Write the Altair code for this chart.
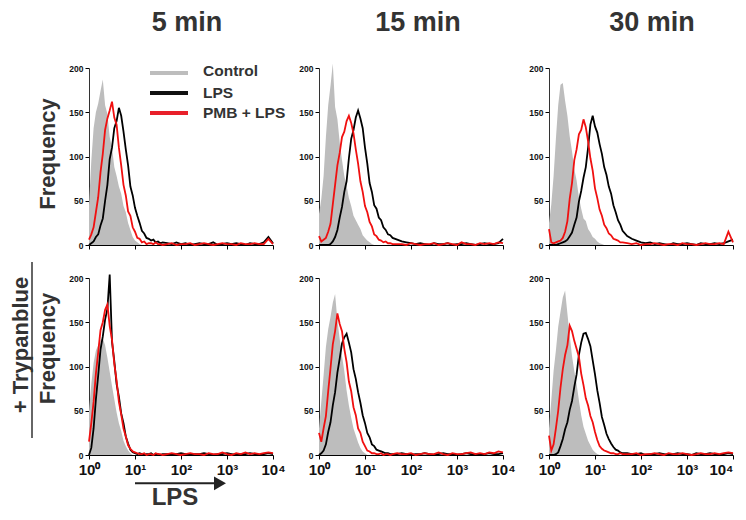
import altair as alt
import pandas as pd

FONT = "Liberation Sans"
TEXT_DARK = "#333333"
GRAY = "#bdbdbd"
RED = "#f01010"

COLUMN_TITLES = ["5 min", "15 min", "30 min"]
SERIES = ["Control", "LPS", "PMB + LPS"]
X_TICKS = [0, 1, 2, 3, 4]
X_TICK_LABELS = ["10⁰", "10¹", "10²", "10³", "10⁴"]
Y_TICKS = [0, 50, 100, 150, 200]

# log10 channel grid (main peak region and flat tail)
LOG_MAIN = [round(0.05 * i, 2) for i in range(33)]      # 0.00 .. 1.60
LOG_TAIL = [round(1.7 + 0.1 * i, 2) for i in range(24)]  # 1.7 .. 4.0

# ---- panel 1: 5 min ----
GRAY_1 = [45, 95, 132, 150, 160, 174, 187, 158, 148, 122, 110, 88, 78, 66, 58, 44, 37, 25, 17, 9,
          5, 3, 1, 0, 0, 0, 0, 0, 0, 0, 0, 0, 0]
BLACK_1 = [0, 2, 4, 9, 12, 22, 30, 50, 68, 97, 110, 132, 140, 155, 146, 128, 108, 90, 66, 56,
           42, 33, 25, 16, 13, 8, 7, 5, 6, 3, 4, 2, 3]
RED_1 = [6, 12, 20, 37, 54, 82, 103, 130, 143, 152, 162, 144, 136, 110, 90, 68, 56, 38, 33, 20,
         15, 8, 7, 3, 4, 1, 2, 2, 1, 3, 1, 1, 0]
BLACK_1_TAIL = [2, 1, 3, 1, 2, 0, 1, 2, 1, 1, 3, 0, 1, 2, 1, 2, 1, 0, 2, 1, 1, 3, 9, 2]
RED_1_TAIL = [1, 2, 0, 1, 1, 2, 0, 1, 2, 1, 0, 1, 2, 1, 1, 0, 2, 1, 1, 2, 1, 1, 7, 1]

# ---- panel 2: 15 min ----
GRAY_2 = [35, 52, 78, 122, 158, 180, 205, 156, 142, 116, 96, 78, 67, 53, 44, 33, 28, 23, 18, 11,
          8, 5, 3, 1, 0, 0, 0, 0, 0, 0, 0, 0, 0]
BLACK_2 = [0, 0, 0, 0, 0, 1, 4, 9, 17, 31, 43, 60, 72, 98, 120, 130, 144, 152, 143, 132,
           110, 92, 70, 60, 45, 41, 31, 28, 20, 17, 12, 11, 8]
RED_2 = [10, 4, 6, 8, 15, 24, 46, 68, 90, 104, 122, 128, 140, 146, 138, 126, 108, 92, 72, 60,
         44, 37, 26, 21, 12, 10, 6, 5, 3, 4, 2, 2, 1]
BLACK_2_TAIL = [6, 4, 3, 2, 1, 2, 1, 0, 2, 1, 1, 2, 0, 1, 1, 2, 1, 0, 1, 2, 1, 1, 2, 7]
RED_2_TAIL = [1, 1, 0, 2, 1, 0, 1, 1, 2, 0, 1, 2, 1, 0, 3, 1, 1, 0, 2, 1, 2, 1, 3, 2]

# ---- panel 3: 30 min ----
GRAY_3 = [25, 46, 78, 120, 158, 181, 183, 163, 146, 123, 106, 86, 73, 54, 41, 30, 27, 18, 14, 9,
          7, 4, 2, 1, 0, 0, 0, 0, 0, 0, 0, 0, 0]
BLACK_3 = [0, 0, 0, 0, 1, 2, 3, 4, 6, 10, 14, 23, 31, 49, 61, 76, 88, 110, 136, 146,
           134, 127, 114, 103, 88, 79, 66, 58, 45, 37, 28, 23, 16]
RED_3 = [18, 3, 2, 3, 4, 5, 8, 15, 27, 52, 70, 96, 108, 125, 130, 142, 133, 117, 98, 84,
         64, 53, 40, 33, 23, 19, 13, 11, 7, 6, 5, 3, 3]
BLACK_3_TAIL = [10, 7, 5, 3, 2, 3, 1, 2, 1, 0, 2, 1, 1, 2, 1, 0, 2, 1, 1, 2, 1, 2, 4, 6]
RED_3_TAIL = [2, 1, 2, 0, 1, 1, 2, 1, 0, 1, 1, 0, 2, 1, 1, 0, 1, 2, 1, 1, 2, 1, 15, 3]

# ---- panel 4: 5 min + Trypanblue ----
GRAY_4 = [50, 80, 104, 118, 124, 130, 132, 124, 110, 94, 78, 63, 48, 36, 27, 16, 10, 5, 2, 0,
          0, 0, 0, 0, 0, 0, 0, 0, 0, 0, 0, 0, 0]
BLACK_4 = [0, 8, 30, 63, 90, 119, 134, 153, 165, 204, 128, 106, 80, 66, 47, 36, 21, 13, 6, 3,
           2, 1, 2, 1, 0, 1, 1, 2, 0, 1, 1, 0, 1]
RED_4 = [15, 36, 60, 92, 116, 141, 150, 164, 170, 146, 130, 103, 84, 60, 46, 30, 21, 11, 7, 4,
         3, 2, 1, 1, 2, 0, 1, 1, 0, 2, 1, 1, 0]
BLACK_4_TAIL = [1, 0, 1, 2, 1, 0, 1, 1, 2, 1, 0, 1, 1, 2, 1, 0, 1, 1, 2, 1, 0, 1, 2, 1]
RED_4_TAIL = [1, 2, 1, 0, 1, 2, 1, 1, 0, 2, 1, 1, 3, 1, 0, 2, 1, 3, 1, 2, 1, 2, 3, 2]

# ---- panel 5: 15 min + Trypanblue ----
GRAY_5 = [30, 60, 90, 122, 142, 156, 172, 182, 152, 131, 112, 95, 73, 56, 42, 30, 22, 14, 8, 4,
          2, 0, 0, 0, 0, 0, 0, 0, 0, 0, 0, 0, 0]
BLACK_5 = [0, 2, 5, 12, 26, 37, 56, 71, 93, 109, 126, 133, 137, 127, 116, 97, 86, 71, 59, 45,
           36, 25, 20, 12, 10, 6, 5, 4, 3, 2, 2, 1, 1]
RED_5 = [25, 15, 30, 44, 72, 98, 125, 140, 160, 148, 140, 120, 105, 83, 72, 54, 45, 30, 25, 15,
         10, 5, 4, 2, 2, 1, 1, 2, 0, 1, 1, 0, 1]
BLACK_5_TAIL = [1, 2, 1, 0, 1, 1, 2, 1, 0, 1, 2, 1, 1, 0, 1, 2, 1, 1, 0, 1, 2, 1, 1, 2]
RED_5_TAIL = [2, 1, 1, 2, 0, 1, 2, 1, 1, 3, 1, 0, 2, 1, 1, 2, 3, 1, 2, 1, 3, 2, 4, 3]

# ---- panel 6: 30 min + Trypanblue ----
GRAY_6 = [30, 62, 95, 118, 145, 162, 178, 186, 160, 135, 112, 95, 80, 62, 45, 32, 24, 16, 11, 6,
          3, 1, 0, 0, 0, 0, 0, 0, 0, 0, 0, 0, 0]
BLACK_6 = [0, 0, 0, 1, 3, 10, 18, 29, 37, 51, 61, 77, 91, 113, 127, 137, 138, 131, 123, 107,
           91, 73, 59, 43, 34, 24, 18, 13, 9, 6, 5, 3, 2]
RED_6 = [22, 5, 12, 30, 50, 76, 97, 113, 124, 146, 140, 129, 120, 111, 92, 79, 64, 56, 44, 37,
         26, 17, 10, 7, 5, 4, 3, 2, 2, 1, 1, 2, 1]
BLACK_6_TAIL = [2, 1, 1, 2, 0, 1, 1, 2, 1, 0, 1, 2, 1, 1, 0, 2, 1, 1, 2, 1, 0, 1, 2, 1]
RED_6_TAIL = [1, 1, 2, 0, 1, 1, 2, 1, 0, 2, 1, 1, 2, 1, 0, 1, 2, 1, 1, 2, 1, 2, 3, 2]

LABEL_EXPR = "[" + ",".join("'" + s + "'" for s in X_TICK_LABELS) + "][datum.value]"
PANEL_W = 184
PANEL_H = 177
LINE_W = 1.8


def text_mark(text, x, y, size, angle=0, align="center", baseline="alphabetic", color=TEXT_DARK):
    return alt.Chart(pd.DataFrame({"t": [text]})).mark_text(
        font=FONT, fontWeight="bold", fontSize=size, angle=angle, align=align,
        baseline=baseline, color=color
    ).encode(text="t:N", x=alt.value(x), y=alt.value(y))


def hrule(x1, x2, y, color, width, opacity=1):
    return alt.Chart(pd.DataFrame({"a": [0]})).mark_rule(
        color=color, strokeWidth=width, strokeOpacity=opacity).encode(
        x=alt.value(x1), x2=alt.value(x2), y=alt.value(y))


def vrule(x, y1, y2, color, width):
    return alt.Chart(pd.DataFrame({"a": [0]})).mark_rule(color=color, strokeWidth=width).encode(
        x=alt.value(x), y=alt.value(y1), y2=alt.value(y2))


def panel(gray, black, black_tail, red, red_tail, bottom_row, extras, last_label_right=False):
    label_align = "center"
    if last_label_right:
        label_align = {"condition": {"test": "datum.value == 4", "value": "right"}, "value": "center"}
    x_axis = alt.Axis(values=X_TICKS, labels=bottom_row, labelExpr=LABEL_EXPR, labelFont=FONT,
                      labelFontSize=15, labelFontWeight="bold", labelColor="#111111",
                      labelAlign=label_align,
                      labelFlush=False, labelOverlap=False, labelPadding=3, tickSize=4,
                      tickColor="#000000", domainColor="#000000", domainWidth=1,
                      title=None, grid=False)
    y_axis = alt.Axis(values=Y_TICKS, labelFont=FONT, labelFontSize=8.5, labelFontWeight="bold",
                      labelColor="#111111", labelPadding=2, tickSize=4, tickColor="#000000",
                      domainColor="#333333", domainWidth=1, title=None, grid=False)
    x = alt.X("L:Q", scale=alt.Scale(domain=[0, 4], nice=False, zero=False), axis=x_axis)
    y = alt.Y("v:Q", scale=alt.Scale(domain=[0, 200], nice=False), axis=y_axis)
    xs_full = LOG_MAIN + LOG_TAIL
    area = alt.Chart(pd.DataFrame({"L": LOG_MAIN, "v": gray, "s": SERIES[0]})).mark_area(
        color=GRAY, opacity=1).encode(x=x, y=y)
    line_b = alt.Chart(pd.DataFrame({"L": xs_full, "v": black + black_tail, "s": SERIES[1]})).mark_line(
        color="#000000", strokeWidth=LINE_W).encode(x=x, y=y)
    line_r = alt.Chart(pd.DataFrame({"L": xs_full, "v": red + red_tail, "s": SERIES[2]})).mark_line(
        color=RED, strokeWidth=LINE_W).encode(x=x, y=y)
    return alt.layer(area, line_b, line_r, *extras).properties(width=PANEL_W, height=PANEL_H)


legend = [
    hrule(61, 99, 5, GRAY, 4),
    hrule(61, 99, 25, "#111111", 4),
    hrule(61, 99, 45, "#e8202a", 4),
    text_mark(SERIES[0], 114, 3, 15.5, align="left", baseline="middle"),
    text_mark(SERIES[1], 114, 25, 15.5, align="left", baseline="middle"),
    text_mark(SERIES[2], 114, 45, 15.5, align="left", baseline="middle"),
]

p1 = panel(GRAY_1, BLACK_1, BLACK_1_TAIL, RED_1, RED_1_TAIL, False, [
    text_mark(COLUMN_TITLES[0], 98, -37.5, 27),
    text_mark("Frequency", -40.6, 86, 22, angle=270, baseline="middle"),
] + legend)
p2 = panel(GRAY_2, BLACK_2, BLACK_2_TAIL, RED_2, RED_2_TAIL, False, [
    text_mark(COLUMN_TITLES[1], 99, -37.5, 27),
])
p3 = panel(GRAY_3, BLACK_3, BLACK_3_TAIL, RED_3, RED_3_TAIL, False, [
    text_mark(COLUMN_TITLES[2], 103, -37.5, 27),
])
p4 = panel(GRAY_4, BLACK_4, BLACK_4_TAIL, RED_4, RED_4_TAIL, True, [
    hrule(-81, -80, 60, "#ffffff", 1, opacity=0),
    text_mark("Frequency", -40.6, 70.5, 22, angle=270, baseline="middle"),
    text_mark("+ Trypanblue", -68.5, 67, 22, angle=270, baseline="middle"),
    vrule(-57, -16, 160, "#333333", 1.5),
    hrule(46, 128, 205.3, "#222222", 2),
    alt.Chart(pd.DataFrame({"a": [0]})).mark_point(
        shape="triangle-right", filled=True, size=190, color="#222222", opacity=1
    ).encode(x=alt.value(131), y=alt.value(205.3)),
    text_mark("LPS", 86, 227.3, 24),
])
p5 = panel(GRAY_5, BLACK_5, BLACK_5_TAIL, RED_5, RED_5_TAIL, True, [])
p6 = panel(GRAY_6, BLACK_6, BLACK_6_TAIL, RED_6, RED_6_TAIL, True, [], last_label_right=True)

chart = alt.concat(
    p1, p2, p3, p4, p5, p6, columns=3,
    spacing={"row": 33, "column": 46}, bounds="flush"
).properties(
    padding={"left": 0, "top": 0, "right": 0, "bottom": 0}
).configure_view(stroke=None).configure_axis(grid=False)

chart.save("out.html", embed_options={"renderer": "svg", "actions": False})
